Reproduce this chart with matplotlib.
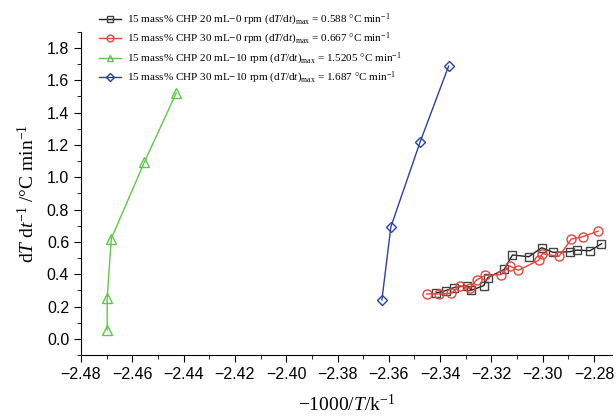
import numpy as np
import matplotlib
matplotlib.use('Agg')
import matplotlib.pyplot as plt
from matplotlib.ticker import MultipleLocator

plt.rcParams['font.family'] = 'Liberation Sans'
plt.rcParams['mathtext.fontset'] = 'custom'
plt.rcParams['mathtext.rm'] = 'Liberation Serif'
plt.rcParams['mathtext.it'] = 'Liberation Serif:italic'

# 15 mass% CHP 20 mL - 0 rpm
x_20_0 = [-2.3416, -2.3379, -2.3346, -2.3295, -2.3278, -2.3230, -2.3215, -2.3150,
          -2.3118, -2.3054, -2.3004, -2.2960, -2.2895, -2.2866, -2.2816, -2.2771]
y_20_0 = [0.284, 0.298, 0.317, 0.329, 0.301, 0.329, 0.378, 0.430,
          0.519, 0.508, 0.564, 0.535, 0.539, 0.549, 0.545, 0.588]

# 15 mass% CHP 30 mL - 0 rpm
x_30_0 = [-2.3452, -2.3403, -2.3356, -2.3324, -2.3285, -2.3258, -2.3224, -2.3164,
          -2.3128, -2.3095, -2.3016, -2.3001, -2.2937, -2.2889, -2.2843, -2.2784]
y_30_0 = [0.278, 0.278, 0.282, 0.329, 0.313, 0.364, 0.393, 0.397,
          0.451, 0.424, 0.486, 0.527, 0.510, 0.617, 0.632, 0.667]

# 15 mass% CHP 20 mL - 10 rpm
x_20_10 = [-2.4698, -2.4698, -2.4682, -2.4553, -2.4429]
y_20_10 = [0.056, 0.253, 0.620, 1.093, 1.5205]

# 15 mass% CHP 30 mL - 10 rpm
x_30_10 = [-2.3627, -2.3592, -2.3478, -2.3367]
y_30_10 = [0.241, 0.693, 1.218, 1.687]

labels = [
    r'15 mass% CHP 20 mL$-$0 rpm (d$\it{T}$/d$\it{t}$)$_{\rm max}$ = 0.588 °C min$^{-1}$',
    r'15 mass% CHP 30 mL$-$0 rpm (d$\it{T}$/d$\it{t}$)$_{\rm max}$ = 0.667 °C min$^{-1}$',
    r'15 mass% CHP 20 mL$-$10 rpm (d$\it{T}$/d$\it{t}$)$_{\rm max}$ = 1.5205 °C min$^{-1}$',
    r'15 mass% CHP 30 mL$-$10 rpm (d$\it{T}$/d$\it{t}$)$_{\rm max}$ = 1.687 °C min$^{-1}$',
]

fig = plt.figure(figsize=(6.16, 4.19), dpi=100)
ax = fig.add_axes([0.1315, 0.1527, 0.862, 0.7716])

ax.plot(x_20_0, y_20_0, '-s', color='#222222', mec='#444444', mfc='none', ms=6, lw=1, label=labels[0])
ax.plot(x_30_0, y_30_0, '-o', color='#e8453c', mfc='none', ms=6.5, lw=1, label=labels[1])
ax.plot(x_20_10, y_20_10, '-^', color='#5ec74a', mfc='none', ms=6.5, lw=1, label=labels[2])
ax.plot(x_30_10, y_30_10, '-D', color='#2b3fa8', mfc='none', ms=5.5, lw=1, label=labels[3])

ax.set_xlim(-2.48, -2.273)
ax.set_ylim(-0.1, 1.9)
ax.xaxis.set_major_locator(MultipleLocator(0.02))
ax.xaxis.set_minor_locator(MultipleLocator(0.01))
ax.yaxis.set_major_locator(MultipleLocator(0.2))
ax.yaxis.set_minor_locator(MultipleLocator(0.1))
ax.xaxis.set_major_formatter(plt.FuncFormatter(lambda v, p: f'{v:.2f}'.replace('-', '\u2212')))
ax.yaxis.set_major_formatter(plt.FuncFormatter(lambda v, p: f'{v:.1f}'))
ax.spines['top'].set_visible(False)
ax.spines['right'].set_visible(False)
ax.tick_params(which='major', direction='out', length=5, labelsize=11.5)
ax.tick_params(which='minor', direction='out', length=3)

ax.set_xlabel(r'$-$1000/$\it{T}$/k$^{-1}$', fontsize=14, family='Liberation Serif', labelpad=9)
ax.set_ylabel(r'd$\it{T}$ d$\it{t}^{-1}$ /°C min$^{-1}$', fontsize=14, family='Liberation Serif', labelpad=6)

fig.legend(loc='upper left', bbox_to_anchor=(0.152, 0.985), frameon=False,
           prop={'family': 'Liberation Serif', 'size': 8}, handlelength=2.0,
           handletextpad=0.5, labelspacing=0.3, borderpad=0, markerscale=0.75)

fig.savefig('out.png', dpi=100)
